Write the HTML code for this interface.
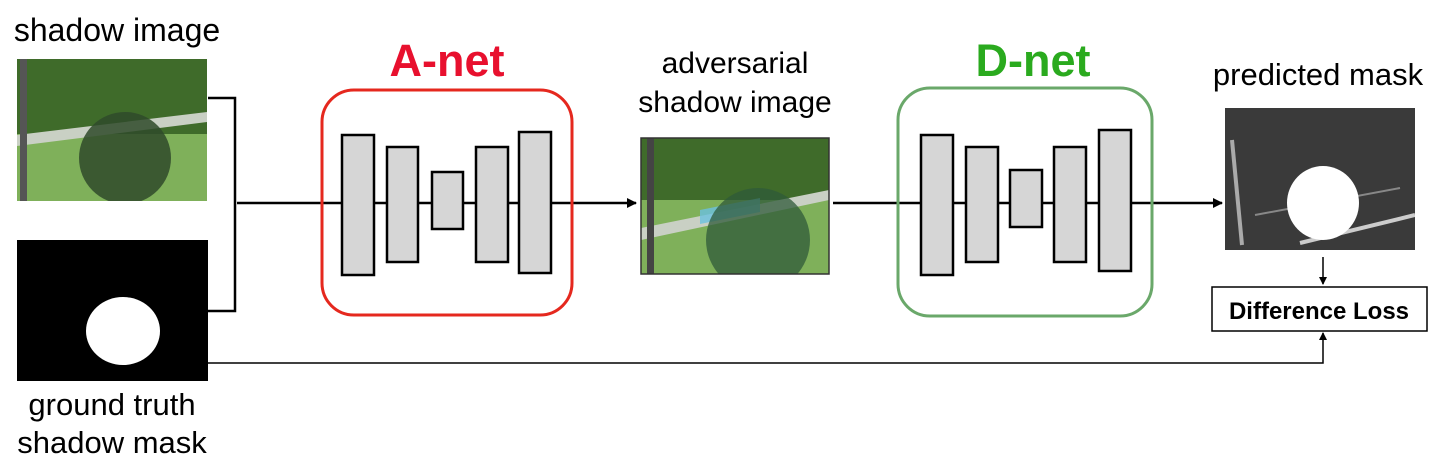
<!DOCTYPE html>
<html><head><style>
html,body{margin:0;padding:0;background:#fff;}
body{width:1446px;height:469px;position:relative;overflow:hidden;font-family:"Liberation Sans",sans-serif;}
.t{position:absolute;font-size:31px;color:#000;text-align:center;white-space:nowrap;line-height:36px;}
</style></head><body>
<div class="t" style="left:0;width:234px;top:12px;font-size:32px;">shadow image</div>
<div class="t" style="left:0;width:224px;top:386px;line-height:38px;">ground truth<br>shadow mask</div>
<div class="t" style="left:600px;width:270px;top:44px;line-height:39px;font-size:30px;">adversarial<br>shadow image</div>
<div class="t" style="left:1190px;width:256px;top:57px;font-size:31px;">predicted mask</div>
<div class="t" style="left:322px;width:250px;top:36px;font-size:45px;font-weight:bold;color:#e8102e;line-height:50px;">A-net</div>
<div class="t" style="left:898px;width:270px;top:36px;font-size:45px;font-weight:bold;color:#2aaa1e;line-height:50px;">D-net</div>
<svg width="1446" height="469" style="position:absolute;left:0;top:0">
<defs>
<clipPath id="c1"><rect x="17" y="59" width="190" height="142"/></clipPath>
<clipPath id="c2"><rect x="641" y="138" width="188" height="136"/></clipPath>
<clipPath id="c3"><rect x="1225" y="108" width="190" height="142"/></clipPath>
<marker id="ah" markerWidth="10" markerHeight="10" refX="9" refY="5" orient="auto" markerUnits="userSpaceOnUse"><path d="M0,0 L10,5 L0,10 z" fill="#000"/></marker>
<marker id="ahs" markerWidth="8" markerHeight="8" refX="7" refY="4" orient="auto" markerUnits="userSpaceOnUse"><path d="M0,0 L8,4 L0,8 z" fill="#000"/></marker>
</defs>
<g clip-path="url(#c1)">
<rect x="17" y="59" width="190" height="142" fill="#7fb05a"/>
<rect x="17" y="59" width="190" height="75" fill="#3f6b2a"/>
<polygon points="17,135 207,112 207,122 17,146" fill="#c9d0c4"/>
<circle cx="125" cy="158" r="46" fill="#2f4a2a" opacity="0.85"/>
<rect x="20" y="59" width="7" height="142" fill="#555"/>
</g>
<rect x="17" y="240" width="191" height="141" fill="#000"/>
<ellipse cx="123" cy="331" rx="37" ry="34" fill="#fff"/>
<polyline points="208,98 235,98 235,311 208,311" fill="none" stroke="#000" stroke-width="2.5"/>
<line x1="237" y1="203" x2="636" y2="203" stroke="#000" stroke-width="2.5" marker-end="url(#ah)"/>
<rect x="322" y="90" width="250" height="225" rx="32" fill="none" stroke="#e5281e" stroke-width="3"/>
<g fill="#d6d6d6" stroke="#000" stroke-width="2.5">
<rect x="342" y="135" width="32" height="140"/><rect x="387" y="147" width="31" height="115"/><rect x="432" y="172" width="31" height="57"/><rect x="476" y="147" width="32" height="115"/><rect x="519" y="132" width="32" height="141"/>
</g>
<g clip-path="url(#c2)">
<rect x="641" y="138" width="188" height="136" fill="#7fb05a"/>
<rect x="641" y="138" width="188" height="62" fill="#3f6b2a"/>
<polygon points="641,228 829,190 829,200 641,240" fill="#c9d0c4"/>
<polygon points="700,210 760,198 760,212 700,224" fill="#6cc0e0" opacity="0.8"/>
<circle cx="758" cy="240" r="52" fill="#2f5a3a" opacity="0.75"/>
<rect x="647" y="138" width="7" height="136" fill="#444"/>
</g>
<rect x="641" y="138" width="188" height="136" fill="none" stroke="#333" stroke-width="1.5"/>
<line x1="833" y1="203" x2="1222" y2="203" stroke="#000" stroke-width="2.5" marker-end="url(#ah)"/>
<rect x="898" y="88" width="254" height="228" rx="32" fill="none" stroke="#6aa86a" stroke-width="3"/>
<g fill="#d6d6d6" stroke="#000" stroke-width="2.5">
<rect x="921" y="135" width="32" height="140"/><rect x="966" y="147" width="32" height="115"/><rect x="1010" y="170" width="32" height="57"/><rect x="1054" y="147" width="32" height="115"/><rect x="1099" y="130" width="32" height="141"/>
</g>
<g clip-path="url(#c3)">
<rect x="1225" y="108" width="190" height="142" fill="#3a3a3a"/>
<line x1="1232" y1="140" x2="1242" y2="245" stroke="#aaa" stroke-width="4"/>
<line x1="1255" y1="215" x2="1400" y2="188" stroke="#888" stroke-width="2"/>
<line x1="1300" y1="243" x2="1415" y2="215" stroke="#ccc" stroke-width="4"/>
<ellipse cx="1323" cy="203" rx="36" ry="37" fill="#fff"/>
</g>
<line x1="1323" y1="257" x2="1323" y2="284" stroke="#000" stroke-width="1.5" marker-end="url(#ahs)"/>
<rect x="1212" y="287" width="215" height="44" fill="#fff" stroke="#000" stroke-width="1.5"/>
<text x="1319" y="319" text-anchor="middle" font-family="Liberation Sans" font-weight="bold" font-size="24">Difference Loss</text>
<polyline points="208,363 1323,363 1323,333" fill="none" stroke="#000" stroke-width="1.5" marker-end="url(#ahs)"/>
</svg>
</body></html>
